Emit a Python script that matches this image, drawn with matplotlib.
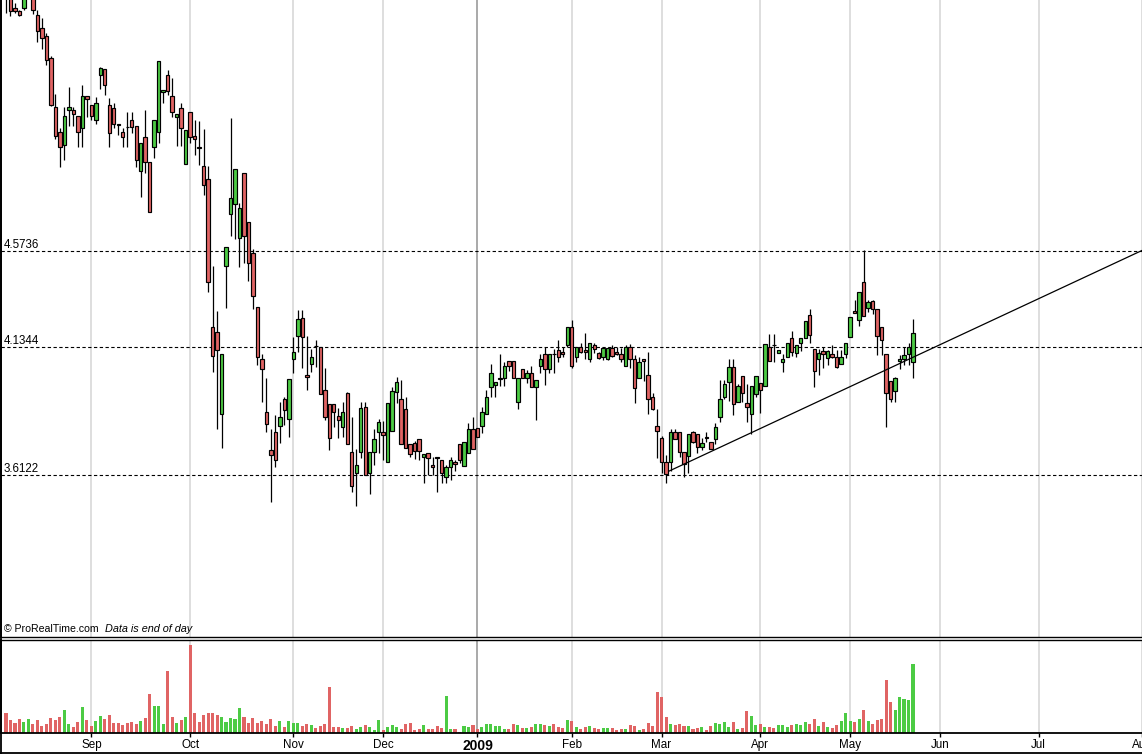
import matplotlib
matplotlib.use('Agg')
import matplotlib.pyplot as plt
from matplotlib.lines import Line2D
from matplotlib.ticker import NullLocator
from matplotlib.transforms import blended_transform_factory

plt.rcParams['font.family'] = ['Liberation Sans', 'DejaVu Sans']

# ---------------- data (daily candles, trading-day index) ----------------
opens = [6.150,5.990,5.909,5.891,5.909,6.000,5.978,5.866,5.786,5.737,
         5.606,5.324,5.185,5.115,5.307,5.307,5.274,5.207,5.386,5.335,
         5.252,5.507,5.542,5.335,5.318,5.227,5.185,5.215,5.252,5.218,
         4.977,5.158,5.024,5.104,5.185,5.409,5.507,5.386,5.269,5.318,
         5.014,5.296,5.163,5.104,5.003,4.935,4.222,4.200,3.853,4.503,
         4.756,4.807,4.638,4.966,4.716,4.565,4.312,4.082,3.861,3.709,
         3.780,3.804,3.914,3.832,4.082,4.183,4.263,4.014,4.061,4.139,
         4.134,3.951,3.893,3.893,3.844,3.800,3.939,3.701,3.621,3.701,
         3.881,3.621,3.701,3.780,3.780,3.662,3.784,3.943,3.914,3.873,
         3.733,3.736,3.752,3.682,3.697,3.651,3.682,3.670,3.605,3.643,
         3.662,3.733,3.647,3.697,3.792,3.796,3.804,3.853,3.964,3.972,
         3.999,4.001,4.074,4.074,3.902,4.039,4.001,4.022,3.964,4.052,
         4.104,4.039,4.104,4.121,4.112,4.143,4.222,4.091,4.134,4.121,
         4.082,4.143,4.108,4.091,4.082,4.130,4.112,4.104,4.052,4.134,
         4.082,4.001,4.082,4.014,3.922,3.804,3.756,3.662,3.662,3.780,
         3.780,3.701,3.686,3.780,3.772,3.721,3.760,3.740,3.752,3.840,
         3.922,3.984,4.048,3.902,4.009,3.898,3.853,3.935,3.980,3.968,
         4.134,4.143,4.108,4.069,4.091,4.174,4.108,4.152,4.174,4.276,
         4.125,4.082,4.117,4.087,4.104,4.091,4.061,4.104,4.178,4.294,
         4.254,4.428,4.308,4.339,4.303,4.222,4.104,3.989,3.947,4.074,
         4.082,4.104,4.069]
highs = [6.200,6.022,5.940,5.897,5.990,6.120,6.009,5.897,5.847,5.756,
         5.617,5.397,5.207,5.324,5.437,5.324,5.274,5.449,5.386,5.335,
         5.380,5.553,5.542,5.375,5.346,5.230,5.207,5.296,5.296,5.218,
         5.126,5.307,5.024,5.252,5.588,5.420,5.536,5.490,5.285,5.346,
         5.196,5.296,5.252,5.246,5.202,5.003,4.503,4.295,4.104,4.594,
         5.263,4.987,4.812,4.966,4.716,4.584,4.312,4.104,4.001,3.792,
         3.849,3.902,3.922,3.997,4.178,4.299,4.299,4.183,4.125,4.165,
         4.134,4.044,3.893,3.893,3.877,3.902,3.943,3.840,3.713,3.902,
         3.902,3.701,3.792,3.832,3.824,3.898,3.964,4.005,3.993,3.922,
         3.733,3.744,3.752,3.693,3.697,3.682,3.682,3.670,3.651,3.682,
         3.670,3.733,3.740,3.816,3.840,3.796,3.881,3.951,4.061,3.984,
         4.104,4.069,4.074,4.074,4.001,4.039,4.035,4.052,3.993,4.104,
         4.134,4.104,4.125,4.165,4.134,4.222,4.254,4.134,4.152,4.196,
         4.152,4.152,4.112,4.130,4.130,4.143,4.134,4.130,4.143,4.147,
         4.099,4.091,4.082,4.112,3.939,3.873,3.764,3.689,3.792,3.792,
         3.780,3.701,3.772,3.784,3.772,3.756,3.780,3.740,3.816,3.993,
         3.993,4.082,4.082,3.976,4.009,3.976,3.968,4.009,3.980,4.147,
         4.191,4.191,4.121,4.104,4.152,4.205,4.143,4.174,4.249,4.303,
         4.125,4.125,4.134,4.121,4.143,4.121,4.121,4.152,4.267,4.344,
         4.381,4.579,4.344,4.344,4.303,4.222,4.104,3.989,4.005,4.099,
         4.134,4.152,4.259]
lows = [5.879,5.860,5.879,5.860,5.897,5.965,5.872,5.701,5.659,5.565,
        5.330,5.147,4.998,5.035,5.218,5.218,5.104,5.104,5.269,5.252,
        5.230,5.426,5.392,5.104,5.207,5.169,5.104,5.104,5.180,4.998,
        4.842,4.966,4.766,5.046,5.126,5.346,5.392,5.269,5.110,5.110,
        5.014,5.126,5.062,5.009,4.852,4.381,4.027,3.792,3.716,4.308,
        4.647,4.633,4.498,4.517,4.433,4.303,4.056,3.902,3.780,3.512,
        3.643,3.736,3.808,3.760,4.022,4.112,4.044,3.951,4.027,4.048,
        3.935,3.828,3.709,3.800,3.756,3.760,3.733,3.548,3.497,3.678,
        3.613,3.541,3.651,3.697,3.670,3.662,3.784,3.898,3.733,3.716,
        3.682,3.674,3.670,3.582,3.613,3.613,3.548,3.582,3.582,3.594,
        3.628,3.659,3.647,3.697,3.713,3.760,3.776,3.853,3.922,3.922,
        3.968,3.968,4.031,4.001,3.873,4.001,3.980,3.964,3.828,4.022,
        3.972,4.022,4.022,4.069,4.091,4.134,4.044,4.069,4.108,4.082,
        4.069,4.108,4.082,4.078,4.078,4.091,4.099,4.069,4.052,4.044,
        3.898,4.001,3.989,3.853,3.869,3.678,3.621,3.582,3.628,3.752,
        3.682,3.605,3.621,3.736,3.697,3.709,3.740,3.713,3.733,3.820,
        3.914,3.906,3.849,3.902,3.902,3.820,3.772,3.922,3.857,3.968,
        4.074,4.069,4.108,4.027,4.091,4.095,4.091,4.117,4.174,4.152,
        3.964,4.014,4.044,4.056,4.087,4.044,4.061,4.087,4.178,4.285,
        4.227,4.272,4.290,4.281,4.099,4.099,3.800,3.902,3.902,4.039,
        4.056,4.056,4.001]
closes = [6.000,5.891,5.891,5.866,5.978,6.080,5.897,5.768,5.725,5.594,
          5.335,5.163,5.104,5.274,5.324,5.285,5.185,5.386,5.369,5.274,
          5.346,5.547,5.449,5.180,5.230,5.224,5.158,5.213,5.213,5.035,
          5.126,5.024,4.766,5.252,5.588,5.420,5.415,5.296,5.285,5.207,
          5.196,5.158,5.147,5.101,4.904,4.428,4.095,4.121,4.104,4.594,
          4.837,4.987,4.786,4.647,4.517,4.362,4.091,4.039,3.812,3.689,
          3.670,3.840,3.869,3.997,4.112,4.259,4.178,4.005,4.091,4.137,
          3.935,3.840,3.756,3.861,3.828,3.861,3.733,3.571,3.651,3.877,
          3.613,3.701,3.752,3.820,3.768,3.898,3.947,3.984,3.733,3.716,
          3.693,3.705,3.705,3.693,3.678,3.643,3.680,3.621,3.643,3.670,
          3.655,3.670,3.740,3.792,3.713,3.760,3.861,3.922,4.022,3.984,
          4.001,4.052,4.052,4.001,4.001,4.001,4.022,3.964,3.993,4.082,
          4.039,4.104,4.102,4.091,4.104,4.222,4.052,4.134,4.112,4.112,
          4.152,4.125,4.087,4.130,4.130,4.095,4.104,4.082,4.134,4.082,
          3.960,4.069,4.074,3.914,3.873,3.784,3.662,3.617,3.780,3.752,
          3.701,3.655,3.772,3.740,3.721,3.736,3.758,3.713,3.800,3.914,
          3.976,4.048,3.893,3.968,3.939,3.881,3.968,4.009,3.951,4.147,
          4.074,4.141,4.121,4.082,4.152,4.112,4.143,4.174,4.249,4.187,
          4.031,4.108,4.104,4.117,4.091,4.048,4.091,4.152,4.267,4.285,
          4.381,4.272,4.335,4.303,4.183,4.165,3.939,3.914,4.001,4.082,
          4.099,4.134,4.196]
volumes = [20.3,13.3,10.3,14.3,11.3,14.3,9.3,13.3,7.3,9.3,
           15.3,13.3,16.3,23.3,9.3,6.3,11.3,26.3,13.3,7.3,
           12.3,17.3,14.3,18.3,10.3,10.3,8.3,10.3,11.3,9.3,
           12.3,15.3,39.3,27.3,27.3,9.3,62.3,16.3,10.3,13.3,
           16.3,88.3,20.3,11.3,18.3,20.3,20.3,18.3,16.3,11.3,
           15.3,14.3,25.3,16.3,10.3,15.3,10.3,12.3,9.3,14.3,
           7.3,12.3,6.3,12.3,10.3,10.3,7.3,9.3,8.3,5.3,
           7.3,9.3,46.3,6.3,6.3,5.3,5.3,7.3,4.3,6.3,
           8.3,6.3,3.3,13.3,3.3,6.3,8.3,6.3,4.3,9.3,
           10.3,3.3,4.3,8.3,4.3,4.3,7.3,5.3,37.3,4.3,
           4.3,1.3,7.3,6.3,8.3,4.3,6.3,9.3,9.3,7.3,
           7.3,4.3,4.3,9.3,8.3,5.3,5.3,6.3,9.3,9.3,
           8.3,7.3,9.3,6.3,5.3,13.3,12.3,6.3,4.3,6.3,
           7.3,5.3,4.3,5.3,5.3,5.3,3.3,4.3,4.3,8.3,
           7.3,3.3,4.3,10.3,7.3,41.3,36.3,16.3,9.3,8.3,
           9.3,7.3,7.3,4.3,5.3,6.3,3.3,7.3,10.3,9.3,
           11.3,6.3,11.3,4.3,5.3,22.3,17.3,8.3,9.3,6.3,
           6.3,5.3,8.3,8.3,6.3,8.3,9.3,8.3,11.3,9.3,
           14.3,7.3,11.3,6.3,5.3,8.3,12.3,20.3,12.3,11.3,
           14.3,23.3,12.3,9.3,13.3,14.3,53.3,31.3,23.3,36.3,
           34.3,33.3,69.3]

# month boundaries (trading-day index of first session of each month)
month_pos = [19, 41, 64, 84, 105, 126, 146, 168, 188, 208, 230, 253]
month_labels = ['Sep', 'Oct', 'Nov', 'Dec', '2009', 'Feb', 'Mar', 'Apr',
                'May', 'Jun', 'Jul', 'Aug']

levels = [4.5736, 4.1344, 3.6122]
level_labels = ['4.5736', '4.1344', '3.6122']

trend_x = [147.7, 253.0]
trend_y = [3.628, 4.577]

RED = '#e06464'
GREEN = '#4ccb44'

# ---------------- layout ----------------
W, H = 1142, 754
fig = plt.figure(figsize=(W / 100, H / 100), dpi=100)
fig.patch.set_facecolor('white')


def fx(px):
    return px / W


def fy(py):
    return 1 - py / H


ax = fig.add_axes([fx(1), fy(637), fx(1142) - fx(1), fy(0) - fy(637)])
axv = fig.add_axes([fx(1), fy(733), fx(1142) - fx(1), fy(640) - fy(733)])

xmin, xmax = -1.114, 253.0
n = len(opens)
xs = list(range(n))
colors = [GREEN if c >= o else RED for o, c in zip(opens, closes)]

# ---------------- price panel ----------------
ax.set_yscale('log')
for i in range(len(month_pos)):
    col = '#a9a9a9' if month_labels[i] == '2009' else '#dedede'
    ax.axvline(month_pos[i], color=col, lw=1.4, zorder=0)
    axv.axvline(month_pos[i], color=col, lw=1.4, zorder=0)

for lv, lab in zip(levels, level_labels):
    ax.axhline(lv, color='black', lw=0.8, linestyle=(0, (3, 2.2)), zorder=1)
    ax.text(3 / 1141, lv, lab, transform=blended_transform_factory(ax.transAxes, ax.transData),
            ha='left', va='bottom', fontsize=8.3, color='black')

ax.vlines(xs, lows, highs, color='black', lw=0.9, zorder=2)
bottoms = [min(o, c) for o, c in zip(opens, closes)]
heights = [max(abs(c - o), 0.0008) for o, c in zip(opens, closes)]
ax.bar(xs, heights, bottom=bottoms, width=0.76, color=colors,
       edgecolor='black', linewidth=0.85, zorder=3)

ax.plot(trend_x, trend_y, color='black', lw=0.9, zorder=4)

ax.set_xlim(xmin, xmax)
ax.set_ylim(3.046, 5.959)
ax.set_xticks([])
ax.set_yticks([])
ax.yaxis.set_minor_locator(NullLocator())
for s in ['top', 'right', 'bottom']:
    ax.spines[s].set_visible(False)
ax.spines['left'].set_linewidth(1.3)

ax.text(3 / 1141, 3 / 637, '\u00a9 ProRealTime.com', transform=ax.transAxes,
        ha='left', va='bottom', fontsize=7.6)
ax.text(104 / 1141, 3 / 637, 'Data is end of day', transform=ax.transAxes,
        ha='left', va='bottom', fontsize=7.8, style='italic')

# ---------------- volume panel ----------------
axv.bar(xs, volumes, width=0.68, color=colors, linewidth=0, zorder=2)
axv.set_xlim(xmin, xmax)
axv.set_ylim(0, 93)
axv.set_yticks([])
for s in ['top', 'right']:
    axv.spines[s].set_visible(False)
axv.spines['left'].set_linewidth(1.3)
axv.spines['bottom'].set_linewidth(1.3)
axv.set_xticks(month_pos)
axv.set_xticklabels(month_labels)
axv.tick_params(axis='x', length=3, width=1, pad=1.2, labelsize=8.4)
for t in axv.get_xticklabels():
    if t.get_text() == '2009':
        t.set_fontweight('bold')
        t.set_fontsize(10)

# frame lines
fig.add_artist(Line2D([fx(0), fx(1142)], [fy(637.3), fy(637.3)], color='black', lw=1.0))
fig.add_artist(Line2D([fx(0), fx(1142)], [fy(640.3), fy(640.3)], color='black', lw=1.0))
fig.add_artist(Line2D([fx(0), fx(1142)], [fy(753.2), fy(753.2)], color='black', lw=1.3))
fig.add_artist(Line2D([fx(1.2), fx(1.2)], [fy(754), fy(0)], color='black', lw=1.3))

fig.savefig('out.png', dpi=100, facecolor='white')
